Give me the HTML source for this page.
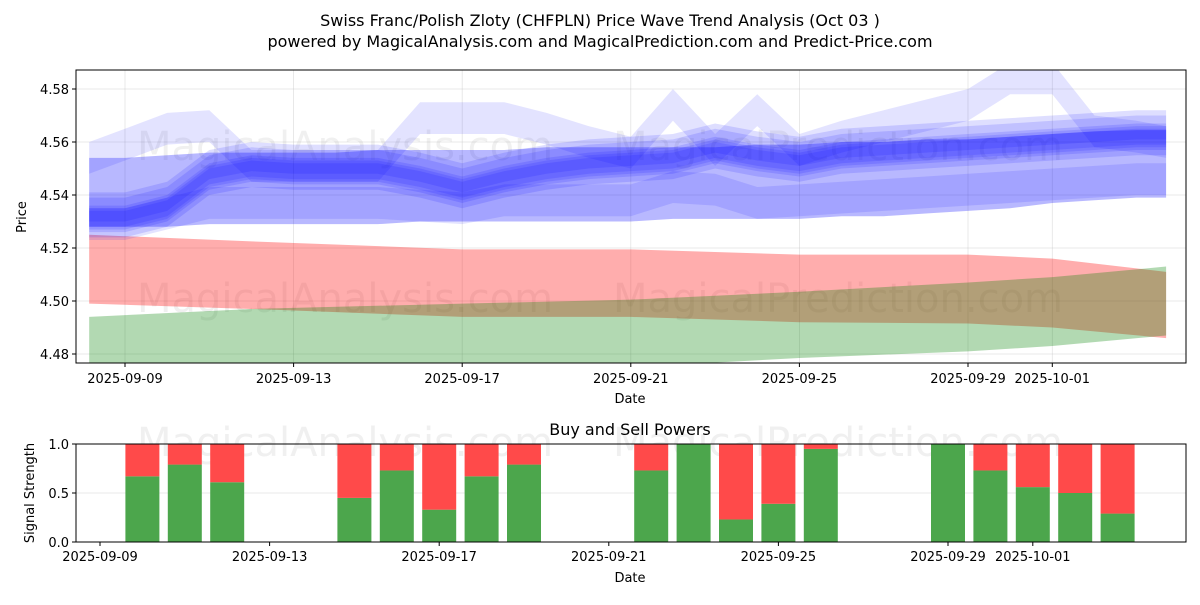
<!DOCTYPE html>
<html><head><meta charset="utf-8"><style>
body{margin:0;background:#fff;}
svg text{font-family:"DejaVu Sans","Liberation Sans",sans-serif;fill:#000;}
</style></head><body>
<svg id="chart" width="1200" height="600" xmlns="http://www.w3.org/2000/svg">
<rect width="1200" height="600" fill="#fff"/>
<defs><clipPath id="c1"><rect x="76" y="70" width="1110" height="293"/></clipPath></defs>
<text x="600" y="26" font-size="16" text-anchor="middle">Swiss Franc/Polish Zloty (CHFPLN) Price Wave Trend Analysis (Oct 03 )</text>
<text x="600" y="47" font-size="16" text-anchor="middle">powered by MagicalAnalysis.com and MagicalPrediction.com and Predict-Price.com</text>
<g id="topPanel"></g>
<g id="botPanel"></g>
</svg>
<script>
// ---- data ----
const topTickDates=["2025-09-09","2025-09-13","2025-09-17","2025-09-21","2025-09-25","2025-09-29","2025-10-01"];
const topTickDays=[0,4,8,12,16,20,22];
const priceTicks=[4.48,4.50,4.52,4.54,4.56,4.58];
const redDays=[-0.85,3,8,12,16,20,22,24.7];
const redUpper=[4.525,4.5225,4.5195,4.5195,4.5175,4.5175,4.516,4.511];
const redLower=[4.499,4.497,4.494,4.494,4.492,4.4915,4.490,4.486];
const greenDays=[-0.85,3,8,12,16,20,22,24.7];
const greenUpper=[4.494,4.497,4.499,4.5005,4.5035,4.507,4.509,4.513];
const greenLower=[4.470,4.471,4.473,4.475,4.4785,4.481,4.483,4.487];
const blueDays=[-0.85,0,1,2,3,4,5,6,7,8,9,10,11,12,13,14,15,16,17,18,19,20,21,22,23,24,24.7];
const blueWideUpper=[4.554,4.554,4.555,4.556,4.556,4.556,4.556,4.557,4.557,4.557,4.557,4.558,4.558,4.558,4.558,4.558,4.559,4.559,4.560,4.560,4.561,4.561,4.562,4.563,4.564,4.5645,4.5645];
const blueWideLower=[4.528,4.528,4.528,4.529,4.529,4.529,4.529,4.529,4.530,4.530,4.530,4.530,4.530,4.530,4.531,4.531,4.531,4.531,4.532,4.532,4.533,4.534,4.535,4.537,4.538,4.539,4.539];
const blueCenter=[4.532,4.532,4.536,4.548,4.551,4.550,4.550,4.550,4.547,4.543,4.547,4.550,4.552,4.553,4.554,4.558,4.555,4.553,4.556,4.557,4.558,4.559,4.560,4.561,4.562,4.563,4.563];
const blueHigh=[4.560,4.565,4.571,4.572,4.557,4.557,4.557,4.557,4.575,4.575,4.575,4.571,4.566,4.562,4.580,4.563,4.578,4.563,4.568,4.572,4.576,4.580,4.590,4.590,4.570,4.568,4.566];
const blueLow=[4.523,4.523,4.527,4.531,4.531,4.531,4.531,4.531,4.530,4.529,4.532,4.532,4.532,4.532,4.537,4.536,4.531,4.532,4.533,4.534,4.535,4.536,4.537,4.538,4.539,4.540,4.540];
const barDates=[1,2,3,6,7,8,9,10,13,14,15,16,17,20,21,22,23,24];
const buyPower=[0.67,0.79,0.61,0.45,0.73,0.33,0.67,0.79,0.73,1.0,0.23,0.39,0.95,1.0,0.73,0.56,0.50,0.29];
const signalTicks=[0,0.5,1.0];

const NS="http://www.w3.org/2000/svg";
function mk(p,t,a){const e=document.createElementNS(NS,t);for(const k in a)e.setAttribute(k,a[k]);p.appendChild(e);return e;}
const topG=document.getElementById('topPanel'),botG=document.getElementById('botPanel');
const L=76,R=1186,T1=70,B1=363,T2=444,B2=542;
const xT=d=>125+42.15*d;
const yT=p=>354-(p-4.48)*2650;
const xB=d=>100+42.4*d;
const yB=v=>B2-v*(B2-T2);
topTickDays.forEach(d=>{const g=mk(topG,'line',{x1:xT(d),x2:xT(d),y1:T1,y2:B1,stroke:'#b0b0b0','stroke-width':0.8,'stroke-opacity':0.35});

});
priceTicks.forEach(p=>{const g=mk(topG,'line',{x1:L,x2:R,y1:yT(p),y2:yT(p),stroke:'#b0b0b0','stroke-width':0.8,'stroke-opacity':0.35});

});
[[345,160,'MagicalAnalysis.com'],[838,160,'MagicalPrediction.com'],[345,312,'MagicalAnalysis.com'],[838,312,'MagicalPrediction.com'],[345,456,'MagicalAnalysis.com'],[838,456,'MagicalPrediction.com']].forEach(w=>{
const t=mk(topG,'text',{x:w[0],y:w[1],'font-size':40,'text-anchor':'middle',style:'fill:rgba(120,120,120,0.11)'});t.textContent=w[2];

});
const g1=mk(topG,'g',{'clip-path':'url(#c1)'});
function band(days,up,lo,fill,name){
 let pts=days.map((d,i)=>xT(d)+','+yT(up[i]));
 pts=pts.concat(days.map((d,i)=>xT(d)+','+yT(lo[i])).reverse());
 const p=mk(g1,'polygon',{points:pts.join(' '),fill:fill});
 
 
}
band(redDays,redUpper,redLower,'rgba(255,0,0,0.32)','sell-band');
band(greenDays,greenUpper,greenLower,'rgba(0,128,0,0.3)','buy-band');
band(blueDays,blueWideUpper,blueWideLower,'rgba(0,0,255,0.28)','wave-band-wide');
band(blueDays,blueHigh,blueHigh.map(v=>v-0.012),'rgba(0,0,255,0.11)','wave-band-high');
band(blueDays,blueLow.map(v=>v+0.012),blueLow,'rgba(0,0,255,0.11)','wave-band-low');
[[0.007,0.006],[0.004,0.005],[0.003,0.002],[0.009,0.004],[0.002,0.008]].forEach(o=>{
 band(blueDays,blueCenter.map(v=>v+o[0]),blueCenter.map(v=>v-o[1]),'rgba(0,0,255,0.13)','wave-band-core');
});
mk(topG,'rect',{x:L,y:T1,width:R-L,height:B1-T1,fill:'none',stroke:'#000','stroke-width':1});
topTickDays.forEach((d,i)=>{mk(topG,'line',{x1:xT(d),x2:xT(d),y1:B1,y2:B1+4,stroke:'#000'});
const t=mk(topG,'text',{x:xT(d),y:B1+20,'font-size':13,'text-anchor':'middle'});t.textContent=topTickDates[i];

});
priceTicks.forEach(p=>{mk(topG,'line',{x1:L-4,x2:L,y1:yT(p),y2:yT(p),stroke:'#000'});
const t=mk(topG,'text',{x:L-7,y:yT(p)+5,'font-size':13,'text-anchor':'end'});t.textContent=p.toFixed(2);

});
let tx=mk(topG,'text',{x:630,y:403,'font-size':13,'text-anchor':'middle'});tx.textContent='Date';


tx=mk(topG,'text',{x:26,y:217,'font-size':13,'text-anchor':'middle',transform:'rotate(-90 26 217)'});tx.textContent='Price';


signalTicks.forEach(v=>{const g=mk(botG,'line',{x1:L,x2:R,y1:yB(v),y2:yB(v),stroke:'#b0b0b0','stroke-width':0.8,'stroke-opacity':0.35});

});
barDates.forEach((d,i)=>{
 const x=xB(d)-17,w=34;
 const g=mk(botG,'rect',{x:x,y:yB(buyPower[i]),width:w,height:yB(0)-yB(buyPower[i]),fill:'#4ca64c'});
 
 
 const r=mk(botG,'rect',{x:x,y:yB(1),width:w,height:yB(buyPower[i])-yB(1),fill:'#ff4a4a'});
 
 
});
mk(botG,'rect',{x:L,y:T2,width:R-L,height:B2-T2,fill:'none',stroke:'#000','stroke-width':1});
topTickDays.forEach((d,i)=>{mk(botG,'line',{x1:xB(d),x2:xB(d),y1:B2,y2:B2+4,stroke:'#000'});
const t=mk(botG,'text',{x:xB(d),y:B2+19,'font-size':13,'text-anchor':'middle'});t.textContent=topTickDates[i];

});
signalTicks.forEach(v=>{mk(botG,'line',{x1:L-4,x2:L,y1:yB(v),y2:yB(v),stroke:'#000'});
const t=mk(botG,'text',{x:L-7,y:yB(v)+5,'font-size':13,'text-anchor':'end'});t.textContent=v.toFixed(1);

});
tx=mk(botG,'text',{x:630,y:582,'font-size':13,'text-anchor':'middle'});tx.textContent='Date';


tx=mk(botG,'text',{x:34,y:493,'font-size':13,'text-anchor':'middle',transform:'rotate(-90 34 493)'});tx.textContent='Signal Strength';


tx=mk(botG,'text',{x:630,y:435,'font-size':16,'text-anchor':'middle'});tx.textContent='Buy and Sell Powers';


</script>
</body></html>
